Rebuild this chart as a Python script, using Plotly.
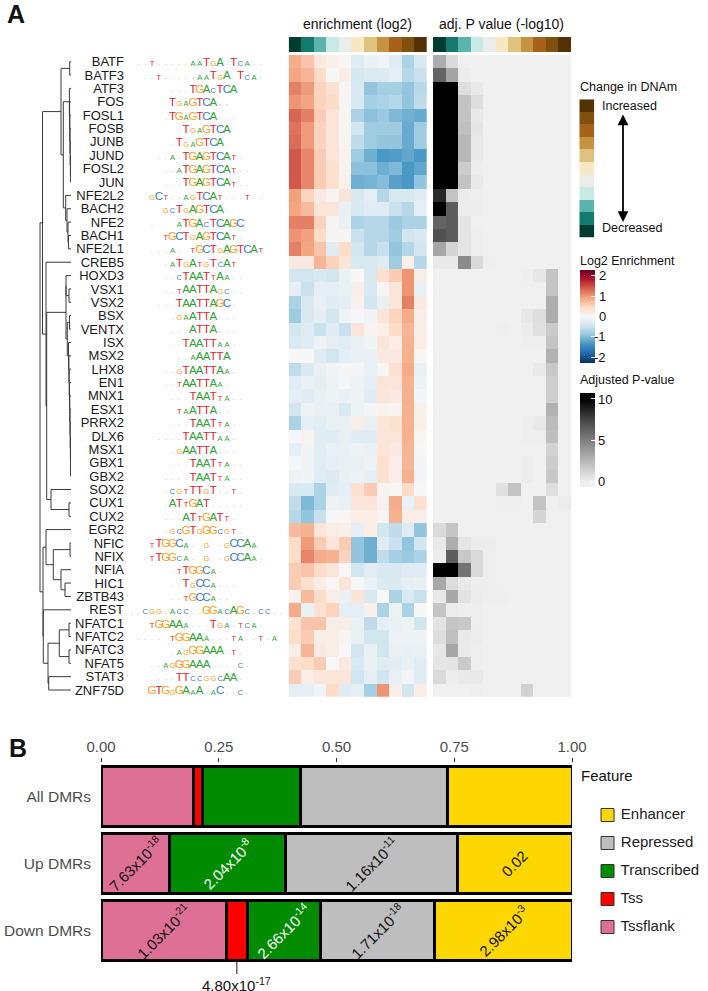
import plotly.graph_objects as go

W, H = 708, 991
FONT = "Liberation Sans"

TF_NAMES = ["BATF","BATF3","ATF3","FOS","FOSL1","FOSB","JUNB","JUND","FOSL2","JUN","NFE2L2","BACH2","NFE2","BACH1","NFE2L1","CREB5",
            "HOXD3","VSX1","VSX2","BSX","VENTX","ISX","MSX2","LHX8","EN1","MNX1","ESX1","PRRX2","DLX6","MSX1","GBX1","GBX2",
            "SOX2","CUX1","CUX2","EGR2","NFIC","NFIX","NFIA","HIC1","ZBTB43","REST","NFATC1","NFATC2","NFATC3","NFAT5","STAT3","ZNF75D"]

LOG2_ENRICHMENT = [
 [.85,.65,.22,.12,.04,-.29,-.15,-.07,-.29,-.73,-.36],
 [.9,.77,.44,.0,.17,-.39,-.32,-.32,-.22,-.65,-.51],
 [1.15,.98,.51,.36,.03,-.36,-.9,-.77,-.77,-.9,-.65],
 [1.02,.9,.51,.44,.03,-.36,-.77,-.73,-.65,-.9,-.58],
 [1.32,1.15,.58,.29,.03,-.73,-.94,-.85,-1.02,-1.11,-1.15],
 [1.24,.98,.51,.29,.03,-.44,-.81,-.81,-.81,-1.15,-.81],
 [1.28,.98,.51,.29,.03,-.58,-.81,-.9,-.9,-1.15,-.81],
 [1.41,1.11,.58,.29,.09,-.81,-1.11,-1.32,-1.28,-1.19,-1.32],
 [1.41,1.11,.58,.36,.09,-.94,-.94,-1.11,-1.02,-1.32,-1.19],
 [1.41,1.11,.58,.36,.12,-1.11,-1.07,-.98,-1.24,-1.32,-.9],
 [.94,.51,.22,.07,.29,-.36,-.22,-.65,-.36,-.36,-.29],
 [.9,.73,.29,.29,-.15,-.36,-.29,-.29,-.51,-.65,-.22],
 [1.15,1.15,.51,.03,-.15,-.73,-.65,-.65,-.85,-.73,-.73],
 [1.02,.94,.44,.03,.03,-.51,-.65,-.65,-.81,-.44,-.36],
 [1.15,.9,.65,-.29,.44,-.44,-.65,-.51,-.9,-.65,-.44],
 [.22,.22,.77,.51,.29,-.36,-.36,-.29,-.81,.12,-.65],
 [-.44,-.44,-.36,-.44,-.15,.0,-.36,.36,.58,1.02,.15],
 [-.22,-.51,-.22,-.22,-.15,.15,-.36,.03,.29,1.02,-.17],
 [-.73,-.36,-.17,-.29,-.22,.1,-.44,-.15,.29,1.15,.22],
 [-.81,-.36,-.22,-.44,-.12,-.03,-.07,.29,.51,.85,.15],
 [-.44,-.29,-.51,-.29,-.51,.29,.07,.12,.44,.77,.17],
 [-.36,-.29,-.12,-.22,-.29,-.15,-.07,.29,.17,.81,.17],
 [.0,.0,-.29,-.44,-.22,-.15,-.15,.22,.22,.81,.04],
 [-.58,-.36,-.17,-.07,-.04,-.04,-.15,.03,.36,.85,-.15],
 [-.29,-.15,-.22,-.12,-.03,-.12,-.22,.29,.29,.81,-.12],
 [-.22,-.29,-.17,-.12,-.15,-.12,-.29,.29,.22,.81,-.04],
 [-.44,-.12,-.17,-.17,-.36,-.12,-.04,.1,.07,.81,.12],
 [-.73,-.22,-.29,-.17,-.17,.15,-.17,.29,.36,.81,.12],
 [-.03,.06,-.29,-.29,-.17,-.29,-.29,.29,.29,.81,.04],
 [-.22,-.07,-.26,-.17,-.17,-.12,-.15,.29,.22,.77,.0],
 [-.03,-.1,-.29,-.22,-.17,-.17,-.12,.36,.15,.77,-.04],
 [-.12,-.07,-.29,-.32,-.17,-.12,-.22,.36,.17,.81,-.04],
 [-.36,-.36,-.73,-.29,-.22,.36,.58,.07,.04,.44,.0],
 [-.58,-1.02,-.73,-.12,-.15,.29,.29,.09,.85,-.15,.36],
 [-.65,-.9,-.51,-.03,.04,.17,.17,.04,.81,.17,.15],
 [.73,.81,.29,.17,.12,-.22,.17,-.44,-.58,-.29,-.9],
 [.44,.98,.58,.29,.58,-.9,-1.11,-.29,-.51,-.9,-.44],
 [.44,1.11,.85,.81,.51,-.9,-1.11,-.58,-.77,-.85,-.73],
 [.58,.65,.44,.29,.0,-.44,-.26,-.36,-.36,-.29,-.29],
 [.58,.36,.17,.04,.29,-.03,-.15,-.32,-.32,-.22,-.17],
 [.09,.73,.44,.15,-.15,.29,-.36,.0,-.73,-.36,-.51],
 [.85,-.15,.36,.51,-.22,-.22,.12,-.73,-.12,-.73,.0],
 [.36,.65,.65,.15,.15,-.15,-.58,-.22,-.15,-.12,-.44],
 [.44,.58,.17,.17,.03,-.17,-.44,-.44,-.12,-.12,-.12],
 [.15,.77,.22,.15,.0,-.44,-.15,-.44,-.15,-.17,-.15],
 [.36,.44,.58,.0,.22,-.36,-.15,-.29,-.26,-.15,-.29],
 [.58,.17,.29,.29,.29,-.44,-.22,-.44,-.17,-.07,-.29],
 [-.22,-.22,-.07,.44,-.29,-.22,-.77,1.02,.15,-.44,.17],
]

ADJ_P = [
 [3,1,0,0,0,0,0,0,0,0,0],
 [6.2,3.4,.2,0,0,0,0,0,0,0,0],
 [10.7,10.7,.8,.3,0,0,0,0,0,0,0],
 [10.7,10.7,2,.8,0,0,0,0,0,0,0],
 [10.7,10.7,2,.3,0,0,0,0,0,0,0],
 [10.7,10.7,2.2,.5,0,0,0,0,0,0,0],
 [10.7,10.7,2.5,.3,0,0,0,0,0,0,0],
 [10.7,10.7,2.5,.3,0,0,0,0,0,0,0],
 [10.7,10.7,1.6,.2,0,0,0,0,0,0,0],
 [10.7,10.7,2,.3,0,0,0,0,0,0,0],
 [8.5,2,.2,.1,0,0,0,0,0,0,0],
 [10.7,6.5,.2,.2,0,0,0,0,0,0,0],
 [6.2,6.5,.5,0,0,0,0,0,0,0,0],
 [7,6.5,.5,.1,0,0,0,0,0,0,0],
 [3.3,1.2,.5,.1,0,0,0,0,0,0,0],
 [.3,.3,4.5,1,.1,0,0,0,0,0,0],
 [0,0,0,0,0,0,0,.1,.4,2,0],
 [0,0,0,0,0,0,0,0,0,2,0],
 [0,0,0,0,0,0,0,0,0,3,0],
 [0,0,0,0,0,0,0,.4,.8,3,0],
 [0,0,0,0,0,.1,0,.2,.7,1.7,0],
 [0,0,0,0,0,0,0,.1,.1,2,0],
 [0,0,0,0,0,0,0,0,0,2.8,0],
 [0,0,0,0,0,0,0,0,.3,1.8,0],
 [0,0,0,0,0,0,0,0,0,1.5,0],
 [0,0,0,0,0,0,0,0,0,1.5,0],
 [0,0,0,0,0,0,0,0,0,2.8,0],
 [0,0,0,0,0,0,0,.1,.3,2.3,0],
 [0,0,0,0,0,0,0,.1,.1,2.2,0],
 [0,0,0,0,0,0,0,0,0,1.3,0],
 [0,0,0,0,0,0,0,.2,0,1.6,0],
 [0,0,0,0,0,0,0,.2,0,1.8,0],
 [0,0,0,0,0,.7,2,0,0,.8,0],
 [0,0,0,0,0,.1,.1,0,2,0,.2],
 [0,0,0,0,0,0,0,0,1.2,0,0],
 [1,1.9,0,0,0,0,0,0,0,0,0],
 [.3,3,.5,.2,.2,0,0,0,0,0,0],
 [.2,6.5,1.8,1,.1,0,0,0,0,0,0],
 [10.7,10.7,5.5,1,.1,0,0,0,0,0,0],
 [3.2,.9,.3,.1,.1,0,0,0,0,0,0],
 [.3,3.2,.6,.2,.1,.1,0,0,0,0,0],
 [1.9,.2,.1,.1,0,0,0,0,0,0,0],
 [.6,1.9,1.8,.1,0,0,0,0,0,0,0],
 [.8,2.2,.3,.2,0,0,0,0,0,0,0],
 [.4,3.3,.3,.1,0,0,0,0,0,0,0],
 [.5,.6,1.7,.1,0,0,0,0,0,0,0],
 [1,.2,.3,.3,0,0,0,0,0,0,0],
 [0,0,0,.1,0,0,0,1.4,0,0,0],
]

# One character per motif position: upper = tall letter, lower = short letter, "-" = nearly no information
MOTIFS = [
 " --t-----aaTgA-Tca--", "  --t-----aaTgA-Tca-", "      ---TGAcTCA", "      TgaGTCA--", "     -TGaGTCA---", "       -TgaGTCA-",
 "      -TgaGTCA-", "    --a-TGAGTCAt-", "     --aTGAGTCAt--", "     ---TGAGTCAt--", "   gCt--agTCAt---t--", "     gcTgAGTCA-",
 "   -   aTGAcTCAGC", "     tGCTgAGTCAt-", "   ---a- tGCTgAGTCAt", "     -aTgAtgTcAt", "     --cTAATtAa--", "     --tAATTAgc--",
 "    ---TAATTAGC-", "      -gaATTA---", "      ---ATTA---", "      --TAATTaa-", "       --aAATTA", "     --gTAATTAa-",
 "     --tAATTAa-", "      ---TAATta--", "       taATTA--", "      ---TAATta-", "    ----TAATTaa-", "      -gAATTA---",
 "      ---TAATta--", "     ----TAATta--", "     -cgtTTgT--t-", "     -ATtGAT-----", "     ---ATtGATt-", "     -gcGTgGGcgt-",
 "   tTGGCa- g -gCCAa", "  -tTGGca- g -gCCAa-", "      -tTGGCa-", "      --TgCCa---", "      --tGCCa--", "--cgg-acc--GGacAGc-cc--",
 "   tGGAAa---Tga-tca-", " ---- tGGAAa---ta--t-a", "      -agGGAAA-t-", "   --agGGAAA----c-", "    ---TTccggcAA-", "   GTGgGAaA-aC--c-",
]

# Dendrogram: (left, right, merge height); children are TF names or indices of earlier merges
MERGES = [
 ("BATF","BATF3",1.3), ("FOSL2","JUN",.4), ("JUND",1,.6), ("JUNB",2,.8), ("FOSB",3,1.0), ("FOSL1",4,1.2), ("FOS",5,1.4), ("ATF3",6,1.6),
 ("BACH1","NFE2L1",2.5), ("NFE2",8,3.0), ("BACH2",9,4.0), ("NFE2L2",10,5.3), (7,11,7.7), (0,12,10.0),
 ("BSX","VENTX",1.5), ("GBX1","GBX2",.4), ("MSX1",15,.5), ("DLX6",16,.6), ("PRRX2",17,.8), ("ESX1",18,1.0), ("MNX1",19,1.2), ("EN1",20,1.5),
 ("LHX8",21,1.8), ("MSX2",22,2.1), ("ISX",23,2.5), (14,24,3.7), ("VSX1","VSX2",2.0), ("HOXD3",26,5.0), (27,25,5.0),
 ("CUX1","CUX2",2.0), ("SOX2",29,20.0), (28,30,24.3), ("CREB5",31,25.0), (13,32,28.5),
 ("NFIC","NFIX",1.0), ("HIC1","ZBTB43",6.0), ("NFIA",35,10.0), (34,36,17.7), ("EGR2",37,25.0),
 ("NFATC1","NFATC2",2.0), ("NFATC3","NFAT5",2.0), (39,40,11.7), ("STAT3","ZNF75D",22.3), (41,42,23.0), ("REST",43,27.7), (38,44,28.0),
 (33,45,31.0),
]

DNAM_COLORS = ["#003c30","#137a6e","#5ab4ac","#c7eae5","#ececec","#f6e8c3","#dfc27d","#c5943f","#a6611a","#80500f","#543005"]
RDBU = ["#053061","#2166ac","#4393c3","#92c5de","#d1e5f0","#f7f7f7","#fddbc7","#f4a582","#d6604d","#b2182b","#67001f"]
LOGO_COLORS = {"A":"#2fa436","C":"#3a7cc2","G":"#f5a21c","T":"#e01f33","-":"#b8b08c"}

DMR_SETS = ["All DMRs","Up DMRs","Down DMRs"]
FEATURES = ["Tssflank","Tss","Transcribed","Repressed","Enhancer"]
FEATURE_COLORS = ["#de7095","#ff0000","#008b00","#bebebe","#ffd700"]
FEATURE_SHARES = [[.196,.145,.267],[.019,None,.043],[.208,.247,.156],[.313,.364,.243],[.264,.244,.291]]
SHARE_LABELS = [
 [None,"7.63x10<sup>-18</sup>","1.03x10<sup>-21</sup>"],
 [None,None,None],
 [None,"2.04x10<sup>-8</sup>","2.66x10<sup>-14</sup>"],
 [None,"1.16x10<sup>-11</sup>","1.71x10<sup>-18</sup>"],
 [None,"0.02","2.98x10<sup>-3</sup>"],
]
TSS_DOWN_LABEL = "4.80x10<sup>-17</sup>"
LEGEND_ORDER = ["Enhancer","Repressed","Transcribed","Tss","Tssflank"]

def dx(a, b): return [a / W, b / W]
def dy(t, b): return [1 - b / H, 1 - t / H]
def px(x): return x / W
def py(y): return 1 - y / H

HID = dict(visible=False, showgrid=False, zeroline=False)
ROWS = len(TF_NAMES)
row_range = [ROWS - .5, -.5]
HEAT_T, HEAT_B = 55, 696.7

fig = go.Figure()

# Heatmaps
L2MAX, PMIN, PMAX = 2.27, -.6, 10.76
fig.add_trace(go.Heatmap(z=LOG2_ENRICHMENT, zmin=-L2MAX, zmax=L2MAX, xaxis="x", yaxis="y", hoverinfo="skip",
    colorscale=[[i / 10, c] for i, c in enumerate(RDBU)],
    colorbar=dict(x=px(580), xanchor="left", y=py(270), yanchor="top", len=93, lenmode="pixels", thickness=14.5, thicknessmode="pixels",
                  xpad=0, ypad=0, outlinewidth=0, tickvals=[-2,-1,0,1,2], ticks="inside", ticklen=4, tickcolor="white", showticklabels=False)))
p_stops = [(PMIN,"#f0f0f0"),(0,"#f0f0f0"),(2.5,"#b8b8b8"),(5,"#808080"),(7.5,"#454545"),(10,"#000000"),(PMAX,"#000000")]
fig.add_trace(go.Heatmap(z=ADJ_P, zmin=PMIN, zmax=PMAX, xaxis="x2", yaxis="y2", hoverinfo="skip",
    colorscale=[[(v - PMIN) / (PMAX - PMIN), c] for v, c in p_stops],
    colorbar=dict(x=px(580), xanchor="left", y=py(392.7), yanchor="top", len=94, lenmode="pixels", thickness=14.5, thicknessmode="pixels",
                  xpad=0, ypad=0, outlinewidth=0, tickvals=[0,5,10], ticktext=["0","5","10"], ticks="inside", ticklen=4, tickcolor="white",
                  tickfont=dict(size=13, family=FONT, color="#111"))))

stair = []
for i, c in enumerate(DNAM_COLORS):
    stair += [[i / 11, c], [(i + 1) / 11, c]]
idx = list(range(11))
for xa, ya in (("x3","y3"),("x4","y4")):
    fig.add_trace(go.Heatmap(z=[idx], zmin=-.5, zmax=10.5, colorscale=stair, showscale=False, xaxis=xa, yaxis=ya, hoverinfo="skip"))
fig.add_trace(go.Heatmap(z=[[i] for i in idx], zmin=-.5, zmax=10.5, colorscale=stair, showscale=False, xaxis="x9", yaxis="y9", hoverinfo="skip"))

# Logos
lx, ly, lt, ls, lc = [], [], [], [], []
for r, motif in enumerate(MOTIFS):
    for i, ch in enumerate(motif):
        if ch == " ":
            continue
        size = 6 if ch == "-" else (11.5 if ch.isupper() else 7.5)
        lx.append(i)
        ly.append(r + (5 - .3 * size) / ((HEAT_B - HEAT_T) / ROWS))
        lt.append(ch.upper())
        ls.append(size)
        lc.append(LOGO_COLORS[ch.upper()])
fig.add_trace(go.Scatter(x=lx, y=ly, mode="text", text=lt, textposition="middle center", xaxis="x5", yaxis="y5",
    textfont=dict(family=FONT, size=ls, color=lc), hoverinfo="skip", cliponaxis=False, showlegend=False))

# Dendrogram
pos, hts = {n: i for i, n in enumerate(TF_NAMES)}, {n: 0 for n in TF_NAMES}
dxs, dys = [], []
for k, (a, b, h) in enumerate(MERGES):
    ya, yb = pos[a], pos[b]
    dxs += [hts[a], h, h, hts[b], None]
    dys += [ya, ya, yb, yb, None]
    pos[k], hts[k] = (ya + yb) / 2, h
fig.add_trace(go.Scatter(x=dxs, y=dys, mode="lines", line=dict(color="#3a3a3a", width=1), xaxis="x6", yaxis="y6",
                         hoverinfo="skip", showlegend=False))

# Panel B bars
cum = [0, 0, 0]
ann = []
for f, col, vals, labs in zip(FEATURES, FEATURE_COLORS, FEATURE_SHARES, SHARE_LABELS):
    fig.add_trace(go.Bar(y=DMR_SETS, x=vals, orientation="h", name=f, marker=dict(color=col, line=dict(color="black", width=3)),
                         xaxis="x7", yaxis="y7", showlegend=False, hoverinfo="skip", cliponaxis=False))
    for j, v in enumerate(vals):
        if v is None:
            continue
        if labs[j]:
            ann.append(dict(x=cum[j] + v / 2, y=j, xref="x7", yref="y7", text=labs[j], showarrow=False, textangle=-45,
                            font=dict(size=15, family=FONT, color="white" if f == "Transcribed" else "#111")))
        if f == "Tss" and j == 2:
            ann.append(dict(x=cum[j] + v / 2, y=j + .45, xref="x7", yref="y7", text=TSS_DOWN_LABEL, ax=0, ay=13, showarrow=True, arrowhead=0,
                            arrowwidth=1, arrowcolor="#111", yanchor="top", borderpad=0, font=dict(size=15, family=FONT, color="#111")))
        cum[j] += v

# Panel B legend
order_cols = [FEATURE_COLORS[FEATURES.index(n)] for n in LEGEND_ORDER]
fig.add_trace(go.Scatter(x=[0] * 5, y=LEGEND_ORDER, mode="markers+text", text=[" " + n for n in LEGEND_ORDER], textposition="middle right", xaxis="x8", yaxis="y8",
    marker=dict(symbol="square", size=13, color=order_cols, line=dict(color="#333", width=1)),
    textfont=dict(size=15, family=FONT, color="#222"), hoverinfo="skip", showlegend=False, cliponaxis=False))

def text(x, y, s, size=13, anchor="left"):
    ann.append(dict(x=px(x), y=py(y), xref="paper", yref="paper", text=s, showarrow=False, xanchor=anchor, yanchor="middle",
                    borderpad=0, font=dict(size=size, family=FONT, color="#111")))

text(6, 14, "<b>A</b>", 25)
text(8, 748, "<b>B</b>", 25)
text(357.6, 24, "enrichment (log2)", 14, "center")
text(501.7, 24, "adj. P value (-log10)", 14, "center")
text(579, 87, "Change in DNAm", 12.5)
text(601, 106, "Increased", 12.5)
text(601, 228, "Decreased", 12.5)
text(579, 261, "Log2 Enrichment", 12.5)
text(579, 380, "Adjusted P-value", 12.5)
text(580, 775, "Feature", 15)
for v, lab in zip([2,1,0,-1,-2], ["2","1","0","-1","-2"]):
    text(607, 270 + (L2MAX - v) / (2 * L2MAX) * 93, lab, 13, "right")
ann.append(dict(x=px(623), y=py(222), xref="paper", yref="paper", ax=0, ay=-109, text="", showarrow=True,
                arrowhead=2, arrowside="end+start", arrowsize=1.2, arrowwidth=1.8, arrowcolor="black"))

fig.update_layout(
    width=W, height=H, margin=dict(l=0, r=0, t=0, b=0, autoexpand=False), plot_bgcolor="white", paper_bgcolor="white", barmode="stack", bargap=.107,
    font=dict(family=FONT, color="#111"), annotations=ann,
    xaxis=dict(domain=dx(288.7, 427), range=[-.5, 10.5], **HID),
    yaxis=dict(domain=dy(HEAT_T, HEAT_B), range=row_range, **HID),
    xaxis2=dict(domain=dx(433, 571), range=[-.5, 10.5], **HID),
    yaxis2=dict(domain=dy(HEAT_T, HEAT_B), range=row_range, **HID),
    xaxis3=dict(domain=dx(288.7, 427), range=[-.5, 10.5], **HID),
    yaxis3=dict(domain=dy(37, 52), range=[-.5, .5], **HID),
    xaxis4=dict(domain=dx(433, 571), range=[-.5, 10.5], **HID),
    yaxis4=dict(domain=dy(37, 52), range=[-.5, .5], **HID),
    xaxis5=dict(domain=dx(125, 285), range=[(125 - 131.7) / 6.8, (285 - 131.7) / 6.8], anchor="y5", **HID),
    yaxis5=dict(domain=dy(HEAT_T, HEAT_B), range=row_range, anchor="x5", tickmode="array", tickvals=list(range(ROWS)), ticktext=TF_NAMES,
                showgrid=False, zeroline=False, showline=False, ticks="", tickfont=dict(size=13, family=FONT, color="#1a1a1a")),
    xaxis6=dict(domain=dx(38, 71), range=[33, 0], **HID),
    yaxis6=dict(domain=dy(HEAT_T, HEAT_B), range=row_range, **HID),
    xaxis7=dict(domain=dx(101, 572), range=[0, 1], side="top", anchor="y7", tickvals=[0,.25,.5,.75,1], ticktext=["0.00","0.25","0.50","0.75","1.00"],
                ticks="outside", ticklen=4, tickcolor="#333", tickfont=dict(size=15, family=FONT, color="#4d4d4d"),
                showgrid=False, zeroline=False, showline=False),
    yaxis7=dict(domain=dy(762.8, 964.3), type="category", categoryorder="array", categoryarray=DMR_SETS, range=[2.5, -.5], anchor="x7",
                ticks="", ticklabelstandoff=9, tickfont=dict(size=15.5, family=FONT, color="#4d4d4d"), showgrid=False, zeroline=False, showline=False),
    xaxis8=dict(domain=dx(601, 708), range=[-.065, 1], **HID),
    yaxis8=dict(domain=dy(801, 941), type="category", categoryorder="array", categoryarray=LEGEND_ORDER, range=[4.5, -.5], **HID),
    xaxis9=dict(domain=dx(579.3, 594.3), range=[-.5, .5], **HID),
    yaxis9=dict(domain=dy(99.3, 237.7), range=[-.5, 10.5], **HID),
)
fig.write_html("out.html", config=dict(displayModeBar=False), post_script="document.body.style.margin='0';")
